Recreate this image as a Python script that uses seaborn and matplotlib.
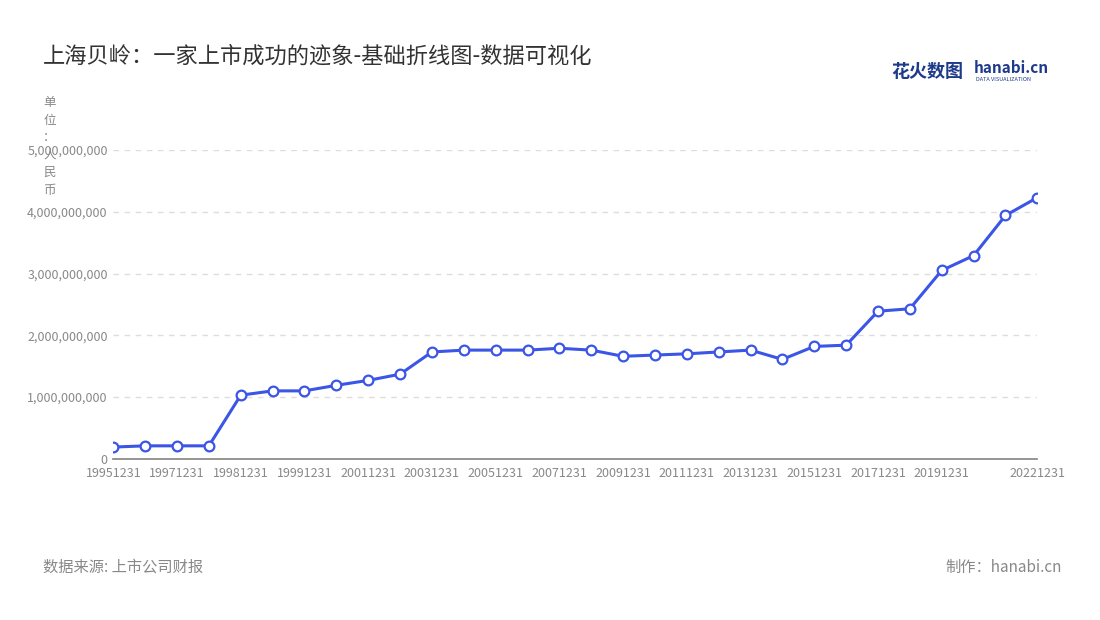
import matplotlib
matplotlib.use("Agg")
import matplotlib.pyplot as plt
import seaborn as sns
import pandas as pd

dates = ["19951231","19961231","19971231","19980630","19981231","19990630","19991231",
         "20001231","20011231","20021231","20031231","20041231","20051231","20061231",
         "20071231","20081231","20091231","20101231","20111231","20121231","20131231",
         "20141231","20151231","20161231","20171231","20181231","20191231","20201231",
         "20211231","20221231"]
values = [0.19,0.21,0.21,0.21,1.03,1.10,1.10,1.19,1.27,1.37,1.73,1.76,1.76,1.76,1.79,
          1.76,1.66,1.68,1.70,1.73,1.76,1.61,1.82,1.84,2.39,2.43,3.05,3.29,3.94,4.23]
values = [v*1e9 for v in values]
yticks = [0,1e9,2e9,3e9,4e9,5e9]

sns.set_theme(style="white")
plt.rcParams['font.family'] = ['Noto Sans CJK SC', 'DejaVu Sans']

df = pd.DataFrame({"x": range(len(dates)), "v": values})
fig = plt.figure(figsize=(11,6.2), dpi=100)
ax = fig.add_axes([0.103, 0.26, 0.84, 0.498])
sns.lineplot(data=df, x="x", y="v", ax=ax, color="#3b55e6", linewidth=2.2,
             marker="o", markersize=7, markerfacecolor="white",
             markeredgecolor="#3b55e6", markeredgewidth=1.6)
ax.set_xlim(0, len(dates)-1)
ax.set_ylim(0, 5e9)
ax.set_yticks(yticks)
ax.set_yticklabels([f"{int(t):,}" for t in yticks], fontsize=9, color="#888888")
ticks = list(range(0, 27, 2)) + [len(dates)-1]
ax.set_xticks(ticks)
ax.set_xticklabels([dates[i] for i in ticks], fontsize=9, color="#888888")
ax.tick_params(axis='x', length=4, color="#888888", pad=2)
ax.tick_params(axis='y', length=0, pad=4)
for y in yticks[1:]:
    ax.axhline(y, color="#dddddd", linestyle=(0,(4,4)), linewidth=1, zorder=0)
for s in ["top","right","left"]:
    ax.spines[s].set_visible(False)
ax.spines["bottom"].set_color("#888888")
ax.set_xlabel(""); ax.set_ylabel("")

fig.text(0.039, 0.91, "上海贝岭：一家上市成功的迹象-基础折线图-数据可视化", fontsize=16, color="#333333", va="center")
fig.text(0.045, 0.845, "\n".join("单位：人民币"), fontsize=9, color="#888888", va="top", ha="center", linespacing=1.45)
fig.text(0.039, 0.085, "数据来源: 上市公司财报", fontsize=11, color="#888888", va="center")
fig.text(0.965, 0.085, "制作：hanabi.cn", fontsize=11, color="#888888", va="center", ha="right")
fig.text(0.81, 0.885, "花火数图", fontsize=13, color="#1e3a8a", va="center", fontweight="bold")
fig.text(0.885, 0.89, "hanabi.cn", fontsize=11, color="#1e3a8a", va="center", fontweight="bold")
fig.text(0.887, 0.872, "DATA VISUALIZATION", fontsize=4, color="#1e3a8a", va="center")
fig.savefig("out.png", dpi=100)
